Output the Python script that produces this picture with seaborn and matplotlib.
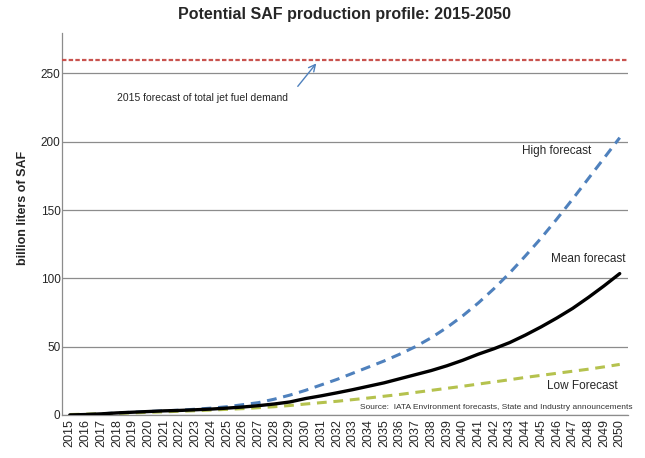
import numpy as np
import pandas as pd
import matplotlib
matplotlib.use("Agg")
import matplotlib.pyplot as plt
import seaborn as sns

# data (billion liters of SAF)
years = list(range(2015, 2051))
high_forecast = [0, 0.3, 0.8, 1.5, 2.0, 2.5, 3.0, 3.5, 4.2, 5.0,
                 6.0, 7.5, 9.0, 11.5, 14.5, 18, 22, 26, 30.5, 35,
                 39.5, 44.5, 50, 56.5, 64, 72.5, 82, 92.5, 104, 116.5,
                 129.5, 143.5, 158, 173, 188, 203]
mean_forecast = [0, 0.3, 0.8, 1.5, 2.0, 2.5, 3.0, 3.3, 3.8, 4.3,
                 5.0, 5.8, 6.8, 8.0, 9.5, 12, 14, 16.2, 18.5, 21,
                 23.5, 26.5, 29.5, 32.5, 36, 40, 44.5, 48.5, 53, 58.5,
                 64.5, 71, 78, 86, 94.5, 103.5]
low_forecast = [0.3, 0.6, 0.9, 1.2, 1.5, 1.9, 2.3, 2.7, 3.1, 3.6,
                4.1, 4.6, 5.3, 6.0, 6.9, 8.0, 9.0, 10.0, 11.2, 12.4,
                13.7, 15.0, 16.5, 18.0, 19.5, 21.0, 22.6, 24.2, 25.8, 27.5,
                29.0, 30.5, 32.0, 33.5, 35.2, 37.0]
jet_fuel_demand = 260
y_ticks = [0, 50, 100, 150, 200, 250]

df = pd.DataFrame({"year": years, "High": high_forecast,
                   "Mean": mean_forecast, "Low": low_forecast})

sns.set_theme(style="white")
plt.rcParams["font.family"] = ["Liberation Sans", "DejaVu Sans"]

fig = plt.figure(figsize=(6.45, 4.58), dpi=100)
ax = fig.add_axes([0.096, 0.094, 0.877, 0.835])

ax.axhline(jet_fuel_demand, color="#c9534f", lw=1.6, ls=(0, (2.0, 1.0)), zorder=3)

sns.lineplot(data=df, x="year", y="High", ax=ax, color="#4f81bd",
             lw=2.2, linestyle=(0, (3.2, 2.2)), zorder=4)
sns.lineplot(data=df, x="year", y="Low", ax=ax, color="#b5c24e",
             lw=2.2, linestyle=(0, (3.2, 2.2)), zorder=4)
sns.lineplot(data=df, x="year", y="Mean", ax=ax, color="black",
             lw=2.4, zorder=5)

ax.set_xlim(2014.5, 2050.5)
ax.set_ylim(0, 280)
ax.set_yticks(y_ticks)
ax.set_xticks(years)
ax.set_xticklabels([str(y) for y in years], rotation=90, fontsize=9)
ax.tick_params(axis="y", labelsize=8.5, pad=1, length=0)
ax.tick_params(axis="x", pad=3, length=0)
ax.yaxis.grid(True, color="#8c8c8c", lw=0.9)
ax.set_axisbelow(True)

for side in ["top", "right"]:
    ax.spines[side].set_visible(False)
for side in ["left", "bottom"]:
    ax.spines[side].set_color("#8c8c8c")
    ax.spines[side].set_linewidth(0.9)

ax.set_xlabel("")
ax.set_ylabel("billion liters of SAF", fontsize=9, fontweight="bold")
ax.yaxis.set_label_coords(-0.058, 0.54)
ax.set_title("Potential SAF production profile: 2015-2050",
             fontsize=11.5, fontweight="bold", pad=10)

# annotations
ax.text(2018.0, 232, "2015 forecast of total jet fuel demand", fontsize=7.5,
        va="center", ha="left")
ax.annotate("", xy=(2030.8, 259), xytext=(2029.4, 239),
            arrowprops=dict(arrowstyle="->", color="#4f81bd", lw=1.0))
ax.text(2043.8, 193.5, "High forecast", fontsize=8.5, va="center", ha="left")
ax.text(2045.6, 114, "Mean forecast", fontsize=8.5, va="center", ha="left")
ax.text(2045.4, 21, "Low Forecast", fontsize=8.5, va="center", ha="left")
ax.text(2033.5, 5.5, "Source:  IATA Environment forecasts, State and Industry announcements",
        fontsize=6.0, va="center", ha="left", color="#333333")

fig.savefig("out.png", dpi=100)
